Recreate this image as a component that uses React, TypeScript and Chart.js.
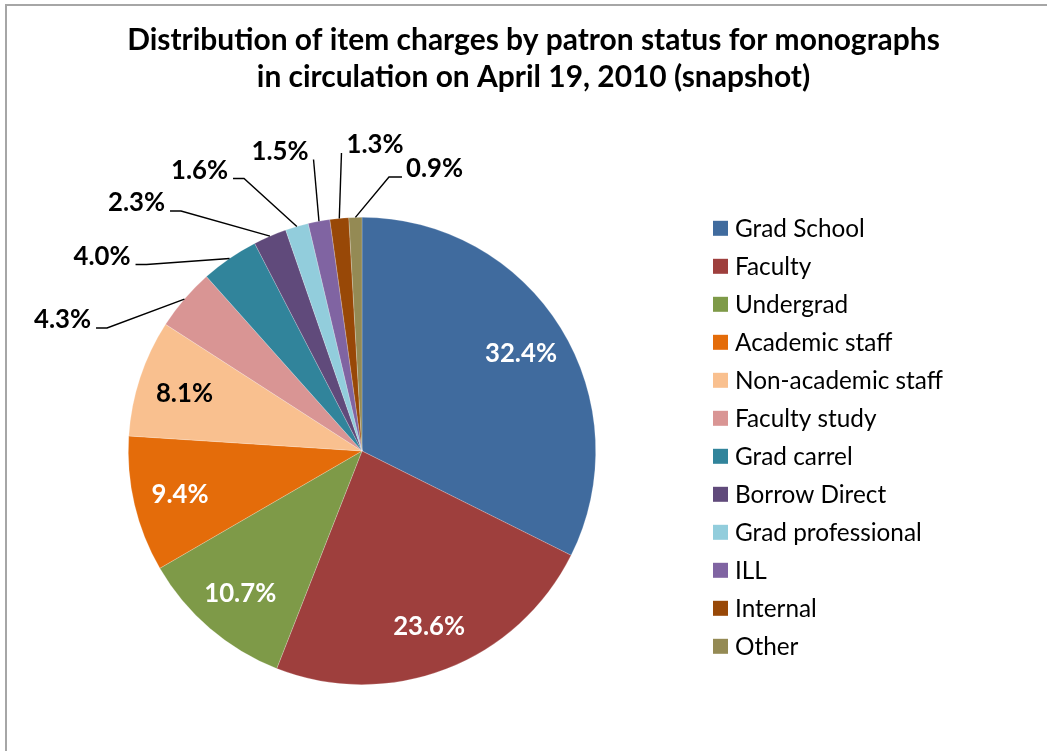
import React, { useEffect, useRef } from "react";
import { Chart, registerables } from "chart.js";

Chart.register(...registerables);

// ---------- data ----------
const categories = [
  "Grad School",
  "Faculty",
  "Undergrad",
  "Academic staff",
  "Non-academic staff",
  "Faculty study",
  "Grad carrel",
  "Borrow Direct",
  "Grad professional",
  "ILL",
  "Internal",
  "Other",
];
const shares = [32.4, 23.6, 10.7, 9.4, 8.1, 4.3, 4.0, 2.3, 1.6, 1.5, 1.3, 0.9];
const titleLines = [
  "Distribution of item charges by patron status for monographs",
  "in circulation on April 19, 2010 (snapshot)",
];

// ---------- style ----------
const W = 1047;
const H = 751;
const FAMILY = 'Lato, "Open Sans", "DejaVu Sans", sans-serif';
const colors = [
  "#406B9E",
  "#9E3F3D",
  "#7E9A48",
  "#E46C0A",
  "#F9C08F",
  "#D99594",
  "#31849B",
  "#604A7B",
  "#92CDDC",
  "#8064A2",
  "#984807",
  "#948A54",
];
const insideLabelColors = ["#ffffff", "#ffffff", "#ffffff", "#ffffff", "#000000"];
// outside label placement (label centre relative to pie centre) & leader attach side
const outsideLayout: { dx: number; dy: number; attach: string }[] = [
  { dx: -299.5, dy: -132.5, attach: "right" }, // 4.3
  { dx: -260, dy: -196, attach: "right" }, // 4.0
  { dx: -225.5, dy: -249.5, attach: "right" }, // 2.3
  { dx: -162.5, dy: -282, attach: "right" }, // 1.6
  { dx: -82, dy: -301, attach: "cornerRight" }, // 1.5
  { dx: 13, dy: -307.5, attach: "cornerLeft" }, // 1.3
  { dx: 72.5, dy: -283.5, attach: "left" }, // 0.9
];

function fitSize(ctx: CanvasRenderingContext2D, text: string, weight: string, target: number) {
  ctx.font = `${weight} 100px ${FAMILY}`;
  const w = ctx.measureText(text).width;
  return (100 * target) / w;
}

const decorPlugin = {
  id: "decor",
  beforeDraw(chart: any) {
    const ctx = chart.ctx as CanvasRenderingContext2D;
    ctx.save();
    ctx.fillStyle = "#ffffff";
    ctx.fillRect(0, 0, W, H);
    ctx.strokeStyle = "#a6a6a6";
    ctx.lineWidth = 2;
    ctx.strokeRect(6, 5, W + 20, H + 20);
    ctx.restore();
  },
  afterDraw(chart: any) {
    const ctx = chart.ctx as CanvasRenderingContext2D;
    ctx.save();

    // title
    const tSize = fitSize(ctx, titleLines[0], "bold", 813);
    ctx.font = `bold ${tSize}px ${FAMILY}`;
    ctx.fillStyle = "#000";
    ctx.textAlign = "center";
    ctx.textBaseline = "alphabetic";
    ctx.fillText(titleLines[0], 533.5, 50);
    ctx.fillText(titleLines[1], 533.5, 87);

    // legend
    const lSize = fitSize(ctx, "Non-academic staff", "normal", 208);
    ctx.font = `normal ${lSize}px ${FAMILY}`;
    const capH = ctx.measureText("H").actualBoundingBoxAscent;
    ctx.textAlign = "left";
    categories.forEach((name, i) => {
      const cy = 228.3 + i * 38;
      ctx.fillStyle = colors[i];
      ctx.fillRect(713, cy - 7.5, 15, 15);
      ctx.fillStyle = "#000";
      ctx.fillText(name, 735, cy + capH / 2);
    });

    // data labels
    const meta = chart.getDatasetMeta(0);
    const vSize = fitSize(ctx, "32.4%", "bold", 72);
    ctx.font = `bold ${vSize}px ${FAMILY}`;
    const digitH = ctx.measureText("0").actualBoundingBoxAscent;
    ctx.textAlign = "center";
    meta.data.forEach((arc: any, i: number) => {
      const p = arc.getProps(["x", "y", "startAngle", "endAngle", "outerRadius"], true);
      const mid = (p.startAngle + p.endAngle) / 2;
      const text = shares[i].toFixed(1) + "%";
      if (i < insideLabelColors.length) {
        const r = p.outerRadius * 0.8;
        const cx = p.x + Math.cos(mid) * r;
        const cy = p.y + Math.sin(mid) * r;
        ctx.fillStyle = insideLabelColors[i];
        ctx.fillText(text, cx, cy + digitH / 2);
      } else {
        const lay = outsideLayout[i - insideLabelColors.length];
        const cx = p.x + lay.dx;
        const cy = p.y + lay.dy;
        const base = cy + digitH / 2;
        const tw = ctx.measureText(text).width;
        ctx.fillStyle = "#000";
        ctx.fillText(text, cx, base);
        const ex = p.x + Math.cos(mid) * p.outerRadius;
        const ey = p.y + Math.sin(mid) * p.outerRadius;
        const pts: [number, number][] = [];
        if (lay.attach === "right") {
          const sx = cx + tw / 2 + 5;
          pts.push([sx, base], [sx + 11, base]);
        } else if (lay.attach === "left") {
          const sx = cx - tw / 2 - 4;
          pts.push([sx, base], [sx - 13, base]);
        } else if (lay.attach === "cornerRight") {
          pts.push([cx + tw / 2 + 5, base]);
        } else {
          pts.push([cx - tw / 2 - 5, base]);
        }
        pts.push([ex, ey]);
        ctx.strokeStyle = "#000";
        ctx.lineWidth = 1.4;
        ctx.beginPath();
        ctx.moveTo(pts[0][0], pts[0][1]);
        for (let k = 1; k < pts.length; k++) ctx.lineTo(pts[k][0], pts[k][1]);
        ctx.stroke();
      }
    });
    ctx.restore();
  },
};

export default function App() {
  const ref = useRef<HTMLCanvasElement | null>(null);
  useEffect(() => {
    if (!ref.current) return;
    const chart = new Chart(ref.current, {
      type: "pie",
      data: {
        labels: categories,
        datasets: [
          {
            data: shares,
            backgroundColor: colors,
            borderWidth: 0.6,
            borderColor: "rgba(255,255,255,0.35)",
            hoverOffset: 0,
            offset: 0,
          },
        ],
      },
      options: {
        responsive: false,
        animation: false,
        events: [],
        rotation: 0,
        layout: { padding: { left: 128, top: 217, right: 451, bottom: 66 } },
        plugins: {
          legend: { display: false },
          title: { display: false },
          tooltip: { enabled: false },
        },
      },
      plugins: [decorPlugin],
    });
    return () => chart.destroy();
  }, []);
  return (
    <div style={{ position: "absolute", left: 0, top: 0, width: W, height: H, background: "#fff" }}>
      <canvas ref={ref} width={W} height={H} style={{ display: "block", width: W, height: H }} />
    </div>
  );
}
